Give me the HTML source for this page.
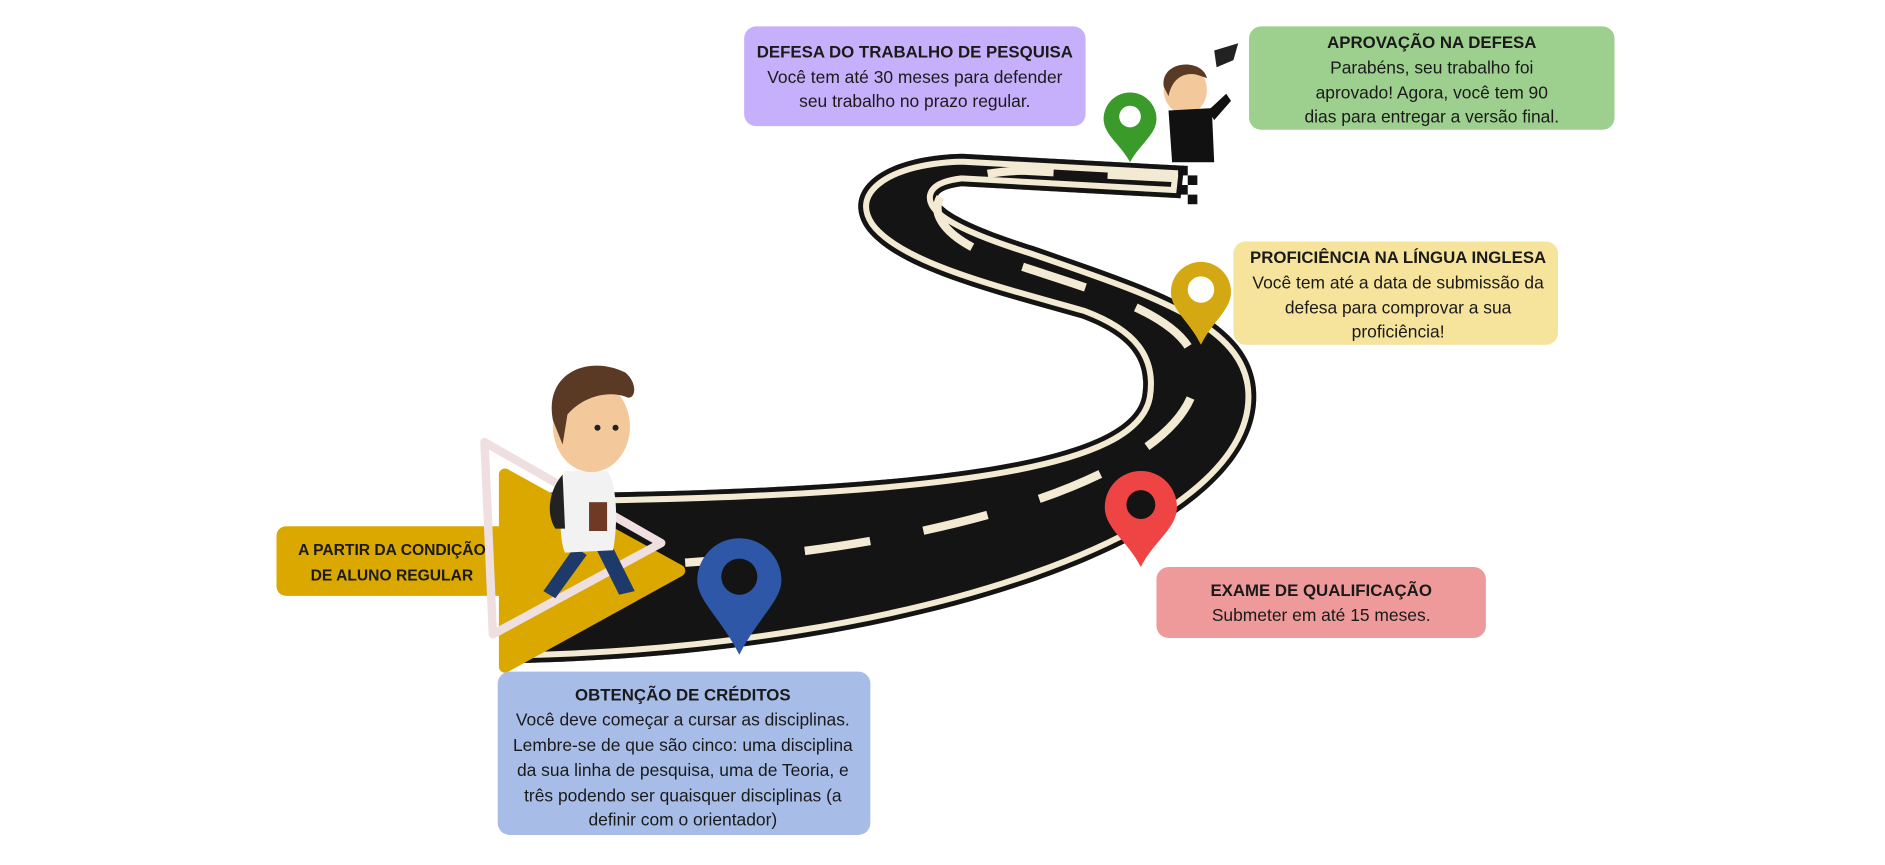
<!DOCTYPE html>
<html><head><meta charset="utf-8"><style>
html,body{margin:0;padding:0;background:#fff;width:1885px;height:865px;overflow:hidden}
svg{display:block}
text{font-family:"Liberation Sans",sans-serif;font-size:14.5px;fill:#1a1a1a}
.b{font-weight:bold;font-size:14px}
</style></head><body>
<svg width="1885" height="865" viewBox="0 0 1568 720" preserveAspectRatio="none">
<defs>
<path id="road" d="M430,552 C760,545 1045,450 1045,330 C1045,265 960,240 860,205 C780,180 760,160 800,155 L982,165 L985,138 L800,128 C730,130 700,160 720,190 C745,225 830,245 900,265 C940,280 955,300 950,330 C940,380 800,405 500,410 L430,410 Z"/>
<clipPath id="rc"><use href="#road"/></clipPath>
</defs>
<use href="#road" fill="#141414"/>
<g clip-path="url(#rc)">
<use href="#road" fill="none" stroke="#f3ead3" stroke-width="18"/>
<use href="#road" fill="none" stroke="#141414" stroke-width="8"/>
</g>
<path d="M470,472 C750,470 995,400 995,310 C995,260 900,240 830,215 C760,190 760,145 850,142 L975,148" fill="none" stroke="#f3ead3" stroke-width="7" stroke-dasharray="55 45"/>
<g fill="#111"><rect x="980" y="138" width="8" height="8"/><rect x="988" y="146" width="8" height="8"/><rect x="980" y="154" width="8" height="8"/><rect x="988" y="162" width="8" height="8"/></g>
<!-- arrow -->
<path d="M420,395 L565,475 L420,555 Z" fill="#dba800" stroke="#dba800" stroke-width="10" stroke-linejoin="round"/>
<rect x="230" y="438" width="200" height="58" rx="8" fill="#dba800"/>
<path d="M403,368 L550,452 L410,528 Z" fill="none" stroke="#efdfe0" stroke-width="7" stroke-linejoin="round"/>
<text x="326" y="462" text-anchor="middle" class="b" style="font-size:13px">A PARTIR DA CONDIÇÃO</text>
<text x="326" y="483" text-anchor="middle" class="b" style="font-size:13px">DE ALUNO REGULAR</text>
<!-- student -->
<g>
<path d="M478,455 L452,492 L462,498 L488,462 Z" fill="#1e3a6a"/>
<path d="M495,455 L515,495 L528,492 L508,452 Z" fill="#1e3a6a"/>
<path d="M470,392 C465,420 465,450 470,460 L510,458 C515,430 512,400 505,392 Z" fill="#f2f2f2"/>
<path d="M468,395 C455,410 455,430 462,440 L470,440 Z" fill="#222"/>
<rect x="490" y="418" width="15" height="24" fill="#6e3a26"/>
<ellipse cx="492" cy="355" rx="32" ry="38" fill="#f3c89a"/>
<path d="M460,350 C452,310 490,295 520,310 C532,320 528,335 520,330 C505,325 485,330 472,345 L468,370 Z" fill="#5a3a25"/>
<circle cx="497" cy="356" r="2.5" fill="#222"/><circle cx="512" cy="356" r="2.5" fill="#222"/>
</g>
<!-- graduate -->
<g>
<ellipse cx="986" cy="75" rx="18" ry="20" fill="#f3c89a"/>
<path d="M968,72 C965,50 1000,48 1004,65 L995,62 C985,60 975,65 972,80 Z" fill="#5a3a25"/>
<path d="M972,92 L1008,90 L1010,135 L975,135 Z" fill="#111"/>
<path d="M1005,92 L1020,78 L1024,84 L1010,100 Z" fill="#111"/>
<path d="M1010,42 L1030,36 L1026,50 L1012,56 Z" fill="#222"/>
</g>
<!-- pins -->
<g>
<path d="M615,545 C600,515 580,500 580,483 A35,35 0 1 1 650,483 C650,500 630,515 615,545 Z" fill="#2e57a8"/>
<circle cx="615" cy="480" r="15" fill="#141414"/>
<path d="M949,472 C938,450 919,440 919,422 A30,30 0 1 1 979,422 C979,440 960,450 949,472 Z" fill="#ef4444"/>
<circle cx="949" cy="420" r="12" fill="#141414"/>
<path d="M999,287 C990,268 974,258 974,243 A25,25 0 1 1 1024,243 C1024,258 1008,268 999,287 Z" fill="#d4a812"/>
<circle cx="999" cy="241" r="11" fill="#fff"/>
<path d="M940,135 C932,120 918,112 918,99 A22,22 0 1 1 962,99 C962,112 948,120 940,135 Z" fill="#3a9a2a"/>
<circle cx="940" cy="97" r="9" fill="#fff"/>
</g>
<!-- boxes -->
<rect x="619" y="22" width="284" height="83" rx="10" fill="#c6b0fb"/>
<text x="761" y="48" text-anchor="middle" class="b">DEFESA DO TRABALHO DE PESQUISA</text>
<text x="761" y="69" text-anchor="middle">Você tem até 30 meses para defender</text>
<text x="761" y="89" text-anchor="middle">seu trabalho no prazo regular.</text>

<rect x="1039" y="22" width="304" height="86" rx="10" fill="#9dcf8e"/>
<text x="1191" y="40" text-anchor="middle" class="b">APROVAÇÃO NA DEFESA</text>
<text x="1191" y="61" text-anchor="middle">Parabéns, seu trabalho foi</text>
<text x="1191" y="82" text-anchor="middle">aprovado!  Agora, você tem 90</text>
<text x="1191" y="102" text-anchor="middle">dias para entregar a versão final.</text>

<rect x="1026" y="201" width="270" height="86" rx="10" fill="#f6e39c"/>
<text x="1163" y="219" text-anchor="middle" class="b">PROFICIÊNCIA NA LÍNGUA INGLESA</text>
<text x="1163" y="240" text-anchor="middle">Você tem até a data de submissão da</text>
<text x="1163" y="261" text-anchor="middle">defesa para comprovar a sua</text>
<text x="1163" y="281" text-anchor="middle">proficiência!</text>

<rect x="962" y="472" width="274" height="59" rx="10" fill="#ef9a9a"/>
<text x="1099" y="496" text-anchor="middle" class="b">EXAME DE QUALIFICAÇÃO</text>
<text x="1099" y="517" text-anchor="middle">Submeter em até 15 meses.</text>

<rect x="414" y="559" width="310" height="136" rx="10" fill="#a7bde8"/>
<text x="568" y="583" text-anchor="middle" class="b">OBTENÇÃO DE CRÉDITOS</text>
<text x="568" y="604" text-anchor="middle">Você deve  começar a cursar as disciplinas.</text>
<text x="568" y="625" text-anchor="middle">Lembre-se de que são cinco: uma disciplina</text>
<text x="568" y="646" text-anchor="middle">da sua linha de pesquisa, uma de Teoria, e</text>
<text x="568" y="667" text-anchor="middle">três podendo ser quaisquer disciplinas (a</text>
<text x="568" y="687" text-anchor="middle">definir com o orientador)</text>
</svg>
</body></html>
